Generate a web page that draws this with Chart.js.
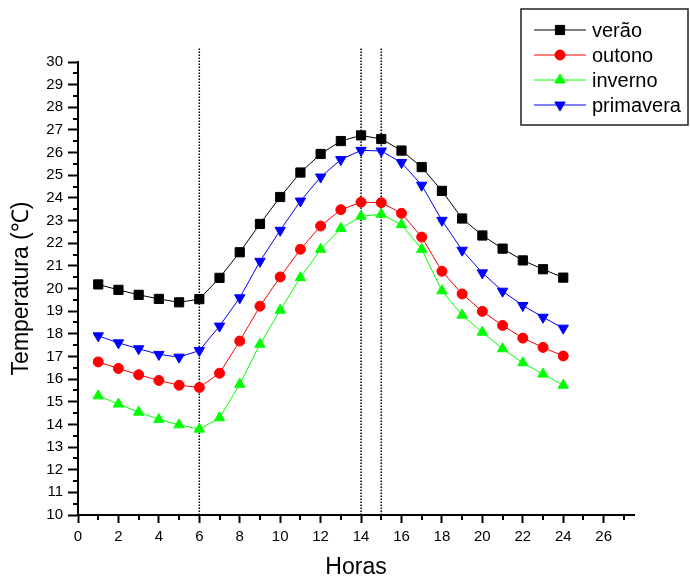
<!DOCTYPE html>
<html lang="pt">
<head>
<meta charset="utf-8">
<title>Temperatura ao longo do dia</title>
<script src="https://cdn.jsdelivr.net/npm/chart.js@4.4.1/dist/chart.umd.min.js"></script>
<style>
  html, body { margin: 0; padding: 0; background: #fff; }
  #wrap { width: 690px; height: 585px; }
</style>
</head>
<body>
<div id="wrap"><canvas id="temp-chart" width="690" height="585"></canvas></div>
<script>
// dados
const horas = [1, 2, 3, 4, 5, 6, 7, 8, 9, 10, 11, 12, 13, 14, 15, 16, 17, 18, 19, 20, 21, 22, 23, 24];
const verao = [20.18, 19.94, 19.72, 19.54, 19.39, 19.53, 20.47, 21.6, 22.85, 24.04, 25.12, 25.94,
               26.51, 26.76, 26.6, 26.09, 25.36, 24.31, 23.09, 22.34, 21.76, 21.24, 20.85, 20.48];
const outono = [16.76, 16.47, 16.19, 15.94, 15.73, 15.63, 16.26, 17.68, 19.22, 20.51, 21.73, 22.76,
                23.48, 23.81, 23.79, 23.32, 22.27, 20.76, 19.76, 18.99, 18.37, 17.81, 17.4, 17.02];
const inverno = [15.26, 14.9, 14.54, 14.22, 13.98, 13.79, 14.29, 15.77, 17.54, 19.04, 20.48, 21.73,
                 22.65, 23.19, 23.28, 22.82, 21.73, 19.9, 18.82, 18.07, 17.34, 16.72, 16.22, 15.73];
const primavera = [17.91, 17.6, 17.34, 17.09, 16.97, 17.26, 18.34, 19.59, 21.2, 22.57, 23.86, 24.92,
                   25.69, 26.1, 26.07, 25.56, 24.56, 23.01, 21.69, 20.69, 19.88, 19.25, 18.73, 18.25];

const linhasVerticais = [6, 14, 15];
const linhaBase = 10;
const linhaTopo = 30.6;

const xMin = 0, xMax = 27.5, xStep = 2;
const yMin = 10, yMax = 30, yStep = 1;

const FONT = "'Liberation Sans', Arial, sans-serif";

function serie(label, valores, cor, estilo, raio, rotacao) {
    return {
        label,
        data: horas.map((h, i) => ({ x: h, y: valores[i] })),
        borderColor: cor,
        backgroundColor: cor,
        borderWidth: 1,
        pointStyle: estilo,
        pointRadius: raio,
        pointRotation: rotacao || 0,
        pointBackgroundColor: cor,
        pointBorderColor: cor,
        pointBorderWidth: 1,
        tension: 0,
        legenda: true,
    };
}

const datasets = [
    serie('verão', verao, '#000000', 'rect', 6.5),
    serie('outono', outono, '#ff0000', 'circle', 5),
    serie('inverno', inverno, '#00ff00', 'triangle', 6),
    serie('primavera', primavera, '#0000ff', 'triangle', 6, 180),
];

linhasVerticais.forEach((h) => {
    datasets.push({
        label: 'h' + h,
        data: [{ x: h, y: linhaBase }, { x: h, y: linhaTopo }],
        borderColor: '#000',
        borderWidth: 1.5,
        borderDash: [1.5, 1.5],
        pointRadius: 0,
        clip: false,
        legenda: false,
    });
});

// marcas menores nos eixos (entre os rótulos)
const minorTicks = {
    id: 'minorTicks',
    afterDraw(chart) {
        const { ctx } = chart;
        const sx = chart.scales.x;
        const sy = chart.scales.y;
        ctx.save();
        ctx.strokeStyle = '#000';
        ctx.lineWidth = 2;
        ctx.beginPath();
        for (let v = sx.min + xStep / 2; v <= sx.max; v += xStep) {
            const px = Math.round(sx.getPixelForValue(v));
            ctx.moveTo(px, sx.top);
            ctx.lineTo(px, sx.top + 5);
        }
        for (let v = sy.min + yStep / 2; v < sy.max; v += yStep) {
            const py = Math.round(sy.getPixelForValue(v));
            ctx.moveTo(sy.right, py);
            ctx.lineTo(sy.right - 5, py);
        }
        ctx.stroke();
        ctx.restore();
    },
};

// legenda em caixa, no canto superior direito
const boxLegend = {
    id: 'boxLegend',
    afterDraw(chart) {
        const { ctx } = chart;
        const items = chart.data.datasets.filter((d) => d.legenda);
        const left = 521, top = 9, width = 167, rowH = 25;
        ctx.save();
        ctx.strokeStyle = '#222';
        ctx.lineWidth = 1.5;
        ctx.strokeRect(left, top, width, 116);
        ctx.font = '20px ' + FONT;
        ctx.textBaseline = 'middle';
        items.forEach((d, i) => {
            const y = top + 21 + i * rowH;
            ctx.strokeStyle = d.borderColor;
            ctx.lineWidth = 1;
            ctx.beginPath();
            ctx.moveTo(534, y);
            ctx.lineTo(586, y);
            ctx.stroke();
            ctx.fillStyle = d.borderColor;
            Chart.helpers.drawPoint(ctx, {
                pointStyle: d.pointStyle,
                radius: d.pointRadius,
                rotation: d.pointRotation,
                borderWidth: 1,
            }, 560, y);
            ctx.fillStyle = '#000';
            ctx.fillText(d.label, 592, y + 1);
        });
        ctx.restore();
    },
};

new Chart(document.getElementById('temp-chart'), {
    type: 'line',
    data: { datasets },
    options: {
        responsive: false,
        animation: false,
        layout: { padding: { top: 62, right: 56, bottom: 0, left: 0 } },
        plugins: {
            legend: { display: false },
            tooltip: { enabled: false },
        },
        scales: {
            x: {
                type: 'linear',
                min: xMin,
                max: xMax,
                afterFit: (s) => { s.height = 70; },
                border: { color: '#000', width: 2 },
                grid: { drawOnChartArea: false, tickLength: 8, tickWidth: 2, tickColor: '#000' },
                ticks: { stepSize: xStep, includeBounds: false, color: '#000', padding: 5, font: { family: FONT, size: 15 } },
                title: { display: true, text: 'Horas', color: '#000', padding: { top: 0 }, font: { family: FONT, size: 23 } },
            },
            y: {
                min: yMin,
                max: yMax,
                afterFit: (s) => { s.width = 78; },
                border: { color: '#000', width: 2 },
                grid: { drawOnChartArea: false, tickLength: 10, tickWidth: 2, tickColor: '#000' },
                ticks: { stepSize: yStep, color: '#000', padding: 5, font: { family: FONT, size: 15 } },
                title: { display: true, text: 'Temperatura (℃)', color: '#000', padding: { top: 8 }, font: { family: FONT, size: 23 } },
            },
        },
    },
    plugins: [minorTicks, boxLegend],
});
</script>
</body>
</html>
